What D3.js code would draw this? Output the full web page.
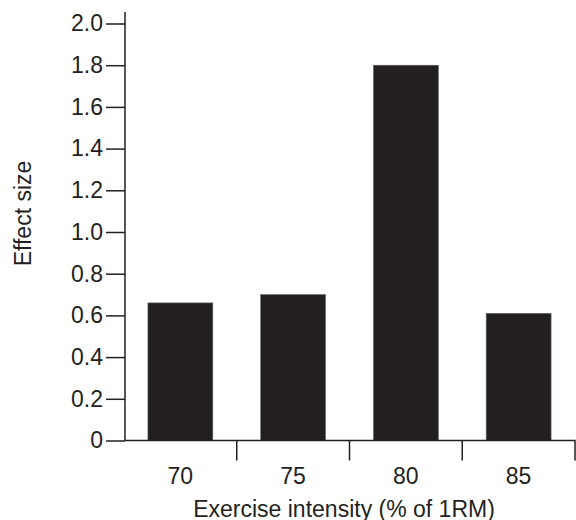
<!DOCTYPE html>
<html>
<head>
<meta charset="utf-8">
<script src="https://cdn.jsdelivr.net/npm/d3@7"></script>
<style>
  html, body { margin: 0; padding: 0; background: #fff; }
  svg { display: block; }
  text { font-family: "Liberation Sans", Arial, Helvetica, sans-serif; fill: #231f20; }
</style>
</head>
<body>
<svg id="chart" width="576" height="520"></svg>
<script>
const categories = ["70", "75", "80", "85"];
const effectSize = [0.66, 0.70, 1.80, 0.61];
const yTicks = [0, 0.2, 0.4, 0.6, 0.8, 1.0, 1.2, 1.4, 1.6, 1.8, 2.0];
const xTitle = "Exercise intensity (% of 1RM)";
const yTitle = "Effect size";

const ink = "#231f20";
const fontSize = 23;
const svg = d3.select("#chart");

const x = d3.scaleBand().domain(categories).range([124, 575])
  .paddingInner(0.424).paddingOuter(0.212);
const y = d3.scaleLinear().domain([0, 2]).range([440.5, 23.5]);

// bars
svg.append("g").selectAll("rect")
  .data(categories.map((c, i) => ({ c, v: effectSize[i] })))
  .join("rect")
  .attr("x", d => x(d.c))
  .attr("y", d => y(d.v))
  .attr("width", x.bandwidth())
  .attr("height", d => y(0) - y(d.v))
  .attr("fill", ink)
  .attr("stroke", "#6d6a6b")
  .attr("stroke-width", 0.6);

// y axis
const yAxis = d3.axisLeft(y).tickValues(yTicks).tickSize(19).tickPadding(3)
  .tickFormat(d => d === 0 ? "0" : d3.format(".1f")(d));
const gy = svg.append("g").attr("transform", "translate(125,0)").call(yAxis);
gy.select(".domain").remove();
gy.selectAll(".tick line").attr("stroke", ink).attr("stroke-width", 1.5);
gy.selectAll(".tick text").attr("font-size", fontSize).style("fill", ink);
svg.append("line").attr("x1", 125).attr("x2", 125).attr("y1", 12).attr("y2", 441)
  .attr("stroke", ink).attr("stroke-width", 1.5);

// x axis
const x0 = x.range()[0];
const step = x.step();
svg.append("line").attr("x1", 125).attr("x2", x.range()[1] + 0.5)
  .attr("y1", y(0)).attr("y2", y(0)).attr("stroke", ink).attr("stroke-width", 1.5);
svg.append("g").selectAll("line")
  .data(categories.map((c, i) => x0 + (i + 1) * step))
  .join("line")
  .attr("x1", d => d).attr("x2", d => d)
  .attr("y1", y(0)).attr("y2", y(0) + 20)
  .attr("stroke", ink).attr("stroke-width", 1.5);

const xAxis = d3.axisBottom(x).tickSize(0).tickPadding(0);
const gx = svg.append("g").attr("transform", "translate(0,0)").call(xAxis);
gx.select(".domain").remove();
gx.selectAll(".tick text").attr("y", 484).attr("dy", null)
  .attr("font-size", fontSize).style("fill", ink);

// titles
svg.append("text").attr("x", 344).attr("y", 516.5).attr("text-anchor", "middle")
  .attr("font-size", fontSize).text(xTitle);
svg.append("text").attr("transform", "translate(31,213.5) rotate(-90)")
  .attr("text-anchor", "middle").attr("font-size", fontSize).text(yTitle);
</script>
</body>
</html>
